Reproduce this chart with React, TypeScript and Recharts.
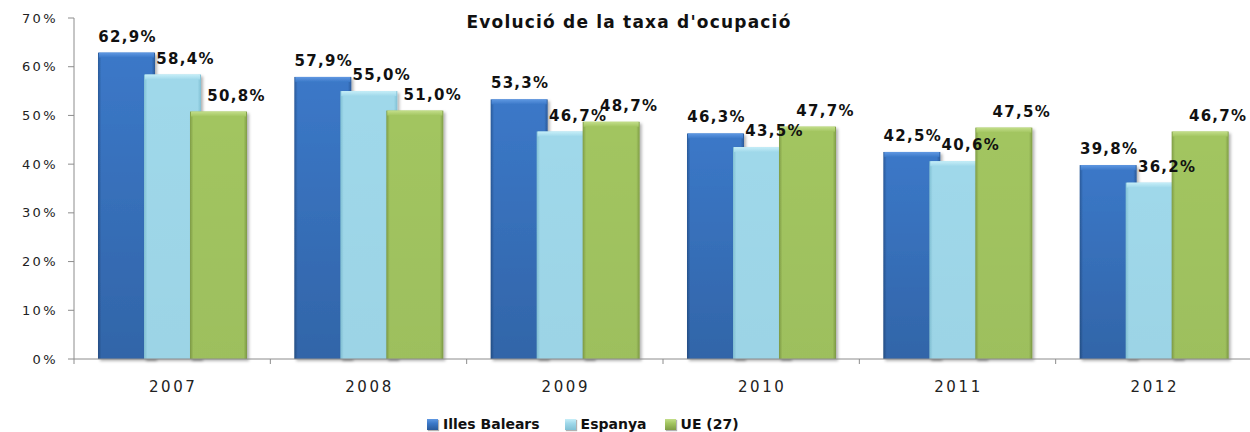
import React from 'react';
import { BarChart, Bar, XAxis, YAxis, Legend } from 'recharts';

const years = ['2007', '2008', '2009', '2010', '2011', '2012'];
const illesBalears = [62.9, 57.9, 53.3, 46.3, 42.5, 39.8];
const espanya = [58.4, 55.0, 46.7, 43.5, 40.6, 36.2];
const ue27 = [50.8, 51.0, 48.7, 47.7, 47.5, 46.7];
const yTicks = [0, 10, 20, 30, 40, 50, 60, 70];

const data = years.map((year, i) => ({
  year,
  ib: illesBalears[i],
  es: espanya[i],
  ue: ue27[i],
}));

const series = [
  { key: 'ib', name: 'Illes Balears', main: '#3b78c8', edge: '#2a5a9a', top: '#5f98e2', dx: 0, shade: 0.16 },
  { key: 'es', name: 'Espanya', main: '#9fd8ea', edge: '#80c0d4', top: '#c6eef8', dx: 12, shade: 0.02 },
  { key: 'ue', name: 'UE (27)', main: '#a2c560', edge: '#7f9c46', top: '#c3de8a', dx: 17, shade: 0.03 },
];

const fmt = (v: number) => v.toFixed(1).replace('.', ',') + '%';

const font = '"DejaVu Sans", Verdana, sans-serif';

function BevelBar(props: any) {
  const { x, y, width, height, id } = props;
  if (!height || height <= 0) return null;
  return (
    <g filter="url(#barShadow)">
      <rect x={x} y={y} width={width} height={height} fill={`url(#h-${id})`} />
      <rect x={x} y={y} width={width} height={height} fill={`url(#v-${id})`} />
      <rect x={x + 1} y={y} width={width - 2} height={5} fill={`url(#t-${id})`} />
    </g>
  );
}

function makeLabel(dx: number) {
  return (props: any) => {
    const { x, y, width, value } = props;
    return (
      <text
        x={x + width / 2 + dx + 1}
        y={y - 11}
        textAnchor="middle"
        fontFamily={font}
        fontWeight="bold"
        fontSize={15}
        letterSpacing={1.3}
        fill="#111"
      >
        {fmt(value)}
      </text>
    );
  };
}

function YearTick(props: any) {
  const { x, y, payload } = props;
  const bx = x - (payload.offset || 0);
  return (
    <g>
      <line x1={bx} x2={bx} y1={y} y2={y + 5} stroke="#8c8c8c" />
      <text
        x={x + 1}
        y={y + 33}
        textAnchor="middle"
        fontFamily={font}
        fontSize={15}
        letterSpacing={2.6}
        fill="#222"
      >
        {payload.value}
      </text>
    </g>
  );
}

function LegendBox() {
  return (
    <div
      style={{
        display: 'flex',
        alignItems: 'center',
        paddingLeft: 427,
        paddingTop: 22,
        fontFamily: font,
        fontWeight: 'bold',
        fontSize: 14,
        color: '#111',
      }}
    >
      {series.map((s, i) => (
        <div key={s.key} style={{ display: 'flex', alignItems: 'center', marginRight: i === 0 ? 25 : 18 }}>
          <div
            style={{
              width: 11,
              height: 11,
              marginRight: 5,
              background: `linear-gradient(180deg, ${s.top} 0%, ${s.main} 40%, ${s.edge} 100%)`,
              boxShadow: '1px 1px 1px rgba(0,0,0,0.3)',
            }}
          />
          <span>{s.name}</span>
        </div>
      ))}
    </div>
  );
}

export default function App() {
  return (
    <div style={{ position: 'absolute', left: 0, top: 0, width: 1250, height: 432, overflow: 'hidden', background: '#fff' }}>
      <div
        style={{
          position: 'absolute',
          left: 0,
          width: 1258,
          top: 12,
          textAlign: 'center',
          fontFamily: font,
          fontWeight: 'bold',
          fontSize: 17,
          letterSpacing: 1.2,
          color: '#111',
          zIndex: 2,
        }}
      >
        Evolució de la taxa d'ocupació
      </div>
      <BarChart
        width={1254}
        height={432}
        data={data}
        margin={{ top: 18, right: 2, bottom: 0, left: 0 }}
        barSize={57}
        barGap={-11}
      >
        <defs>
          <filter id="barShadow" x="-10%" y="-10%" width="130%" height="130%">
            <feDropShadow dx="2" dy="2" stdDeviation="1.5" floodColor="#000" floodOpacity="0.3" />
          </filter>
          {series.map((s) => (
            <React.Fragment key={s.key}>
              <linearGradient id={`h-${s.key}`} x1="0" y1="0" x2="1" y2="0">
                <stop offset="0%" stopColor={s.edge} />
                <stop offset="6%" stopColor={s.main} />
                <stop offset="50%" stopColor={s.main} />
                <stop offset="94%" stopColor={s.main} />
                <stop offset="100%" stopColor={s.edge} />
              </linearGradient>
              <linearGradient id={`v-${s.key}`} x1="0" y1="0" x2="0" y2="1">
                <stop offset="0%" stopColor="#000" stopOpacity={0} />
                <stop offset="100%" stopColor="#000" stopOpacity={s.shade} />
              </linearGradient>
              <linearGradient id={`t-${s.key}`} x1="0" y1="0" x2="0" y2="1">
                <stop offset="0%" stopColor={s.top} />
                <stop offset="100%" stopColor={s.main} />
              </linearGradient>
            </React.Fragment>
          ))}
        </defs>
        <XAxis
          dataKey="year"
          height={35}
          axisLine={{ stroke: '#8c8c8c' }}
          tickLine={false}
          tickSize={0}
          tickMargin={0}
          tick={<YearTick />}
          interval={0}
        />
        <YAxis
          width={74}
          domain={[0, 70]}
          ticks={yTicks}
          tickFormatter={(v: number) => v + '%'}
          axisLine={{ stroke: '#8c8c8c' }}
          tickLine={{ stroke: '#8c8c8c' }}
          tickSize={6}
          tickMargin={10}
          tick={{ fontFamily: font, fontSize: 13, letterSpacing: 2.4, fill: '#222' }}
        />
        <Legend verticalAlign="bottom" height={38} content={() => <LegendBox />} />
        {series.map((s) => (
          <Bar
            key={s.key}
            dataKey={s.key}
            name={s.name}
            fill={s.main}
            isAnimationActive={false}
            shape={(p: any) => <BevelBar {...p} id={s.key} />}
            label={makeLabel(s.dx)}
          />
        ))}
      </BarChart>
    </div>
  );
}
